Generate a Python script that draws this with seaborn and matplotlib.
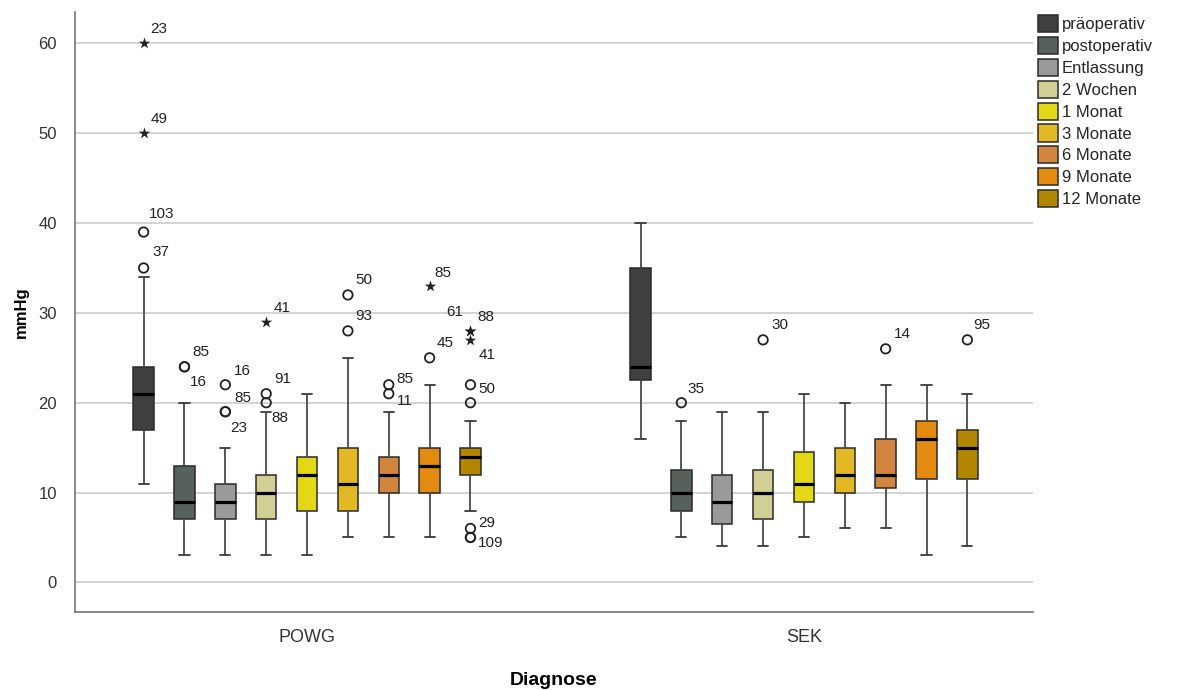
import numpy as np
import pandas as pd
import matplotlib
matplotlib.use("Agg")
import matplotlib.pyplot as plt
import seaborn as sns

# ---------------- data ----------------
groups = ["POWG", "SEK"]
timepoints = ["präoperativ", "postoperativ", "Entlassung", "2 Wochen", "1 Monat",
              "3 Monate", "6 Monate", "9 Monate", "12 Monate"]
colors = ["#404040", "#56615b", "#9a9a9a", "#d3ce93", "#e3d816",
          "#e2b925", "#d2853f", "#e38a10", "#b38600"]

# five-number summaries: whisker low, Q1, median, Q3, whisker high
powg_low = [11, 3, 3, 3, 3, 5, 5, 5, 8]
powg_q1 = [17, 7, 7, 7, 8, 8, 10, 10, 12]
powg_med = [21, 9, 9, 10, 12, 11, 12, 13, 14]
powg_q3 = [24, 13, 11, 12, 14, 15, 14, 15, 15]
powg_high = [34, 20, 15, 19, 21, 25, 19, 22, 18]

sek_low = [16, 5, 4, 4, 5, 6, 6, 3, 4]
sek_q1 = [22.5, 8, 6.5, 7, 9, 10, 10.5, 11.5, 11.5]
sek_med = [24, 10, 9, 10, 11, 12, 12, 16, 15]
sek_q3 = [35, 12.5, 12, 12.5, 14.5, 15, 16, 18, 17]
sek_high = [40, 18, 19, 19, 21, 20, 22, 22, 21]

# outliers: group index, timepoint index, value, kind ('o' outlier, '*' extreme), case label
out_group = [0, 0, 0, 0, 0, 0, 0, 0, 0, 0, 0, 0, 0, 0, 0, 0, 0, 0, 0, 0, 0, 0, 0, 0, 0, 0,
             1, 1, 1, 1]
out_time = [0, 0, 0, 0, 1, 1, 2, 2, 2, 3, 3, 3, 5, 5, 6, 6, 7, 7, 8, 8, 8, 8, 8, 8, 8, 8,
            1, 3, 6, 8]
out_value = [60, 50, 39, 35, 24, 24, 22, 19, 19, 29, 21, 20, 32, 28, 22, 21, 25, 33,
             28, 28, 27, 22, 20, 6, 5, 5,
             20, 27, 26, 27]
out_kind = ["*", "*", "o", "o", "o", "o", "o", "o", "o", "*", "o", "o", "o", "o", "o", "o",
            "o", "*", "*", "*", "*", "o", "o", "o", "o", "o",
            "o", "o", "o", "o"]
out_label = ["23", "49", "103", "37", "85", "16", "16", "85", "23", "41", "91", "88", "50", "93",
             "85", "11", "45", "85", "88", "61", "41", "50", "", "29", "109", "",
             "35", "30", "14", "95"]
# label offsets in pixels (dx, dy)
lab_dx = [7, 7, 5, 9, 8, 5, 9, 9, 5, 7, 8, 5, 7, 7, 8, 8, 7, 5, 7, -24, 8, 8, 0, 8, 7, 0,
          6, 8, 8, 6]
lab_dy = [14, 14, 18, 16, 15, -15, 14, 14, -16, 14, 15, -15, 15, 15, 6, -7, 15, 13, 14, 19,
          -15, -4, 0, 5, -6, 0,
          14, 15, 15, 15]

# ---------------- build long-form table ----------------
rows = []
for g, lo, q1, me, q3, hi in [(groups[0], powg_low, powg_q1, powg_med, powg_q3, powg_high),
                              (groups[1], sek_low, sek_q1, sek_med, sek_q3, sek_high)]:
    for i, t in enumerate(timepoints):
        for v in (lo[i], q1[i], me[i], q3[i], hi[i]):
            rows.append({"Diagnose": g, "Zeitpunkt": t, "mmHg": v})
df = pd.DataFrame(rows)

# ---------------- plot ----------------
sns.set_theme(style="white")
plt.rcParams["font.family"] = ["Liberation Sans", "DejaVu Sans"]

fig = plt.figure(figsize=(11.83, 6.90), dpi=100)
ax = fig.add_axes([75 / 1183, 1 - 612 / 690, (1033 - 75) / 1183, (612 - 12) / 690])

WIDTH = 0.74
sns.boxplot(data=df, x="Diagnose", y="mmHg", hue="Zeitpunkt", order=groups,
            hue_order=timepoints, palette=colors, saturation=1, width=WIDTH, gap=0.5,
            whis=(0, 100), showfliers=False, linecolor="#2a2a2a", linewidth=1.1,
            medianprops={"color": "black", "linewidth": 2.3},
            whiskerprops={"color": "#4a4a4a", "linewidth": 1.3},
            capprops={"color": "#3a3a3a", "linewidth": 1.3},
            ax=ax, zorder=3)

# outliers drawn at seaborn's dodged positions
n = len(timepoints)
step = WIDTH / n
for g, t, v, k, lab, dx, dy in zip(out_group, out_time, out_value, out_kind, out_label,
                                    lab_dx, lab_dy):
    xpos = g + (t - (n - 1) / 2) * step
    if k == "o":
        ax.scatter([xpos], [v], s=46, facecolors="none", edgecolors="#222222",
                   linewidths=1.3, zorder=5)
    else:
        ax.scatter([xpos], [v], s=75, marker="*", color="#222222", linewidths=0, zorder=5)
    if lab:
        ax.annotate(lab, (xpos, v), xytext=(dx, dy), textcoords="offset pixels",
                    ha="left", va="center", fontsize=11, color="#222222", zorder=6)

ax.set_xlim(-0.467, 1.461)
ax.set_ylim(-3.3, 63.5)
ax.set_yticks([0, 10, 20, 30, 40, 50, 60])
ax.yaxis.grid(True, color="#d0d0d0", linewidth=1.3, zorder=0)
ax.xaxis.grid(False)
ax.set_axisbelow(True)
for s in ["top", "right"]:
    ax.spines[s].set_visible(False)
for s in ["left", "bottom"]:
    ax.spines[s].set_color("#777777")
    ax.spines[s].set_linewidth(1.2)
ax.tick_params(axis="y", length=0, pad=13, labelsize=12, labelcolor="#333333")
ax.tick_params(axis="x", length=0, pad=12, labelsize=13, labelcolor="#333333")

ax.set_ylabel("mmHg", fontsize=12, fontweight="bold", labelpad=7, color="black")
ax.set_xlabel("Diagnose", fontsize=14, fontweight="bold", labelpad=19, color="black")

handles, labels = ax.get_legend_handles_labels()
ax.legend(handles, labels, loc="upper left", bbox_to_anchor=(1.002, 1.0), frameon=False,
          fontsize=12, handlelength=1.2, handleheight=1.2, handletextpad=0.2,
          labelspacing=0.28, borderaxespad=0.1, borderpad=0.1)

fig.savefig("out.png", dpi=100)
